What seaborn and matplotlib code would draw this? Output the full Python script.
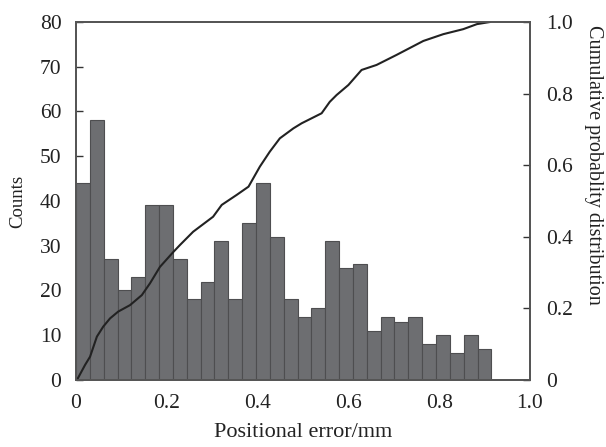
import numpy as np
import pandas as pd
import matplotlib
matplotlib.use("Agg")
import matplotlib.pyplot as plt
import seaborn as sns

# ---- data ----
counts = [44, 58, 27, 20, 23, 39, 39, 27, 18, 22, 31, 18, 35, 44, 32,
          18, 14, 16, 31, 25, 26, 11, 14, 13, 14, 8, 10, 6, 10, 7]
bin_width = 0.0305
cdf_x = [0.0, 0.003, 0.02, 0.031, 0.046, 0.06, 0.075, 0.093, 0.119, 0.145,
         0.163, 0.185, 0.214, 0.229, 0.258, 0.302, 0.321, 0.354, 0.38, 0.405,
         0.427, 0.449, 0.479, 0.497, 0.541, 0.559, 0.574, 0.6, 0.629, 0.662,
         0.706, 0.765, 0.809, 0.853, 0.883, 0.912]
cdf_y = [0.0, 0.002, 0.042, 0.065, 0.121, 0.149, 0.172, 0.191, 0.209, 0.237,
         0.27, 0.316, 0.357, 0.377, 0.414, 0.456, 0.489, 0.517, 0.54, 0.596,
         0.638, 0.675, 0.703, 0.717, 0.745, 0.777, 0.796, 0.824, 0.866, 0.88,
         0.908, 0.947, 0.966, 0.98, 0.994, 1.0]
x_ticks = [0, 0.2, 0.4, 0.6, 0.8, 1.0]
x_tick_labels = ["0", "0.2", "0.4", "0.6", "0.8", "1.0"]
y_ticks = list(range(0, 81, 10))
y2_ticks = [0, 0.2, 0.4, 0.6, 0.8, 1.0]
y2_tick_labels = ["0", "0.2", "0.4", "0.6", "0.8", "1.0"]

sns.set_style("white")
plt.rcParams["font.family"] = ["Liberation Serif", "DejaVu Serif"]
plt.rcParams["mathtext.fontset"] = "stix"

edges = [i * bin_width for i in range(len(counts) + 1)]
centers = [(edges[i] + edges[i + 1]) / 2 for i in range(len(counts))]
df = pd.DataFrame({"err": centers, "n": counts})
cdf_df = pd.DataFrame({"x": cdf_x, "y": cdf_y})

fig = plt.figure(figsize=(6.06, 4.47), dpi=100)
ax = fig.add_axes([0.1254, 0.150, 0.7492, 0.8008])

sns.histplot(data=df, x="err", weights="n", bins=edges, ax=ax,
             color="#6d6e71", alpha=1.0, edgecolor="#4e4e50", linewidth=0.8)

ax.set_xlim(0, 1.0)
ax.set_ylim(0, 80)
ax.set_xticks(x_ticks)
ax.set_xticklabels(x_tick_labels)
ax.set_yticks(y_ticks)
ax.tick_params(axis="x", length=0, pad=10, labelsize=15.5, colors="#222222")
ax.tick_params(axis="y", direction="in", length=5, width=1.0, pad=10.5,
               labelsize=15.5, colors="#333333", labelcolor="#222222")
ax.set_xlabel("Positional error/mm", fontsize=16, color="#222222", labelpad=7)
ax.set_ylabel("Counts", fontsize=13.5, color="#222222", labelpad=10)

ax2 = ax.twinx()
sns.lineplot(data=cdf_df, x="x", y="y", ax=ax2, color="#222222",
             linewidth=1.5, estimator=None, sort=False)
ax2.set_ylim(0, 1.0)
ax2.set_yticks(y2_ticks)
ax2.set_yticklabels(y2_tick_labels)
ax2.tick_params(axis="y", direction="in", length=5, width=1.0, pad=11.5,
                labelsize=15.5, colors="#333333", labelcolor="#222222")
ax2.set_ylabel("Cumulative probablity distribution", fontsize=14.5,
               color="#222222", rotation=-90, ha="center", va="center")
ax2.yaxis.set_label_coords(1.139, 0.60)
ax2.set_xlabel("")
ax2.set_xlim(0, 1.0)

for a in (ax, ax2):
    for s in a.spines.values():
        s.set_visible(True)
        s.set_color("#555555")
        s.set_linewidth(1.3)

fig.savefig("out.png", dpi=100)
